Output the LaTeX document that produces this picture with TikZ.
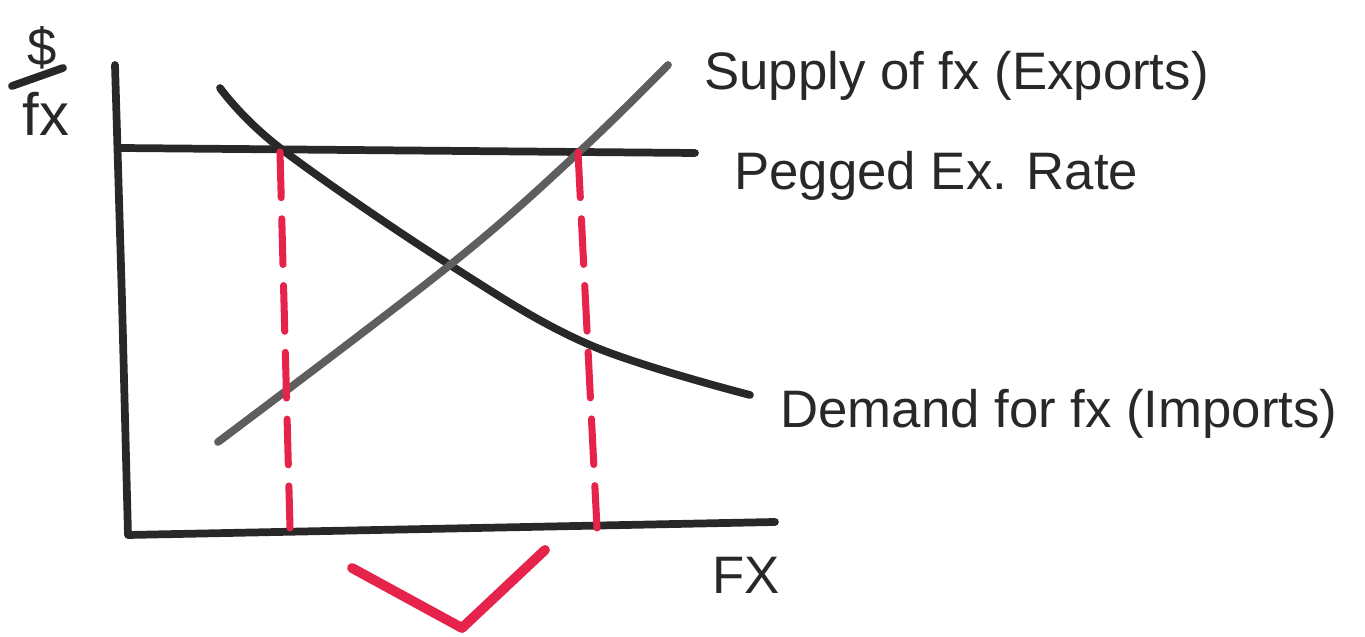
\documentclass[tikz,border=0pt]{standalone}
\usepackage{fontspec}
\setmainfont{Liberation Sans}
\usepackage{tikz}
\usetikzlibrary{positioning}
\usepackage{xcolor}
\definecolor{pen}{RGB}{40,40,40}
\definecolor{redpen}{RGB}{230,35,75}

\begin{document}
\begin{tikzpicture}[x=0.01cm, y=-0.01cm,
    every node/.style={font=\fontsize{15}{18}\selectfont, text=pen},
    stroke/.style={pen, line width=2.2pt, line cap=round, line join=round},
    guide/.style={redpen, line width=2pt, line cap=round, dash pattern=on 13pt off 6pt},
    tick/.style={redpen, line width=2.8pt, line cap=round, line join=round}]
  \useasboundingbox (0,0) rectangle (1365,637);

  % AXES
  \coordinate (ytop) at (115,65);
  \coordinate (origin) at (128,535);
  \coordinate (xend) at (775,522);
  \draw[stroke] (ytop) -- (122,300) -- (origin) -- (xend);
  \node[anchor=west] (xlbl) at (700,575) {FX};

  % Y LABEL ($ over fx)
  \node (dollar) at (42,48) {\$};
  \node[font=\fontsize{17}{20}\selectfont] (fxlbl) at (46,114) {fx};
  \draw[stroke] (12,86) -- (63,68);

  % PEGGED RATE
  \coordinate (pegL) at (120,148);
  \coordinate (pegR) at (695,153);
  \draw[stroke] (pegL) -- (pegR);
  \node[anchor=west] (peglbl) at (722,176) {Pegged Ex. Rate};

  % DEMAND AND SUPPLY
  \draw[stroke] plot[smooth, tension=0.6] coordinates {(220,88) (280,148) (450,265) (590,345) (750,395)};
  \node[anchor=west] (demlbl) at (768,414) {Demand for fx (Imports)};
  \draw[stroke, pen!75] plot[smooth, tension=0.6] coordinates {(218,442) (450,265) (578,153) (668,65)};
  \node[anchor=west] (suplbl) at (692,76) {Supply of fx (Exports)};

  % RED GUIDES DOWN TO THE AXIS
  \foreach \xt/\xb in {280/290, 578/597} {
    \draw[guide] (\xt,152) -- (\xb,528);
  }

  % CHECK MARK
  \draw[tick] (352,568) -- (462,628) -- (545,550);
\end{tikzpicture}
\end{document}
